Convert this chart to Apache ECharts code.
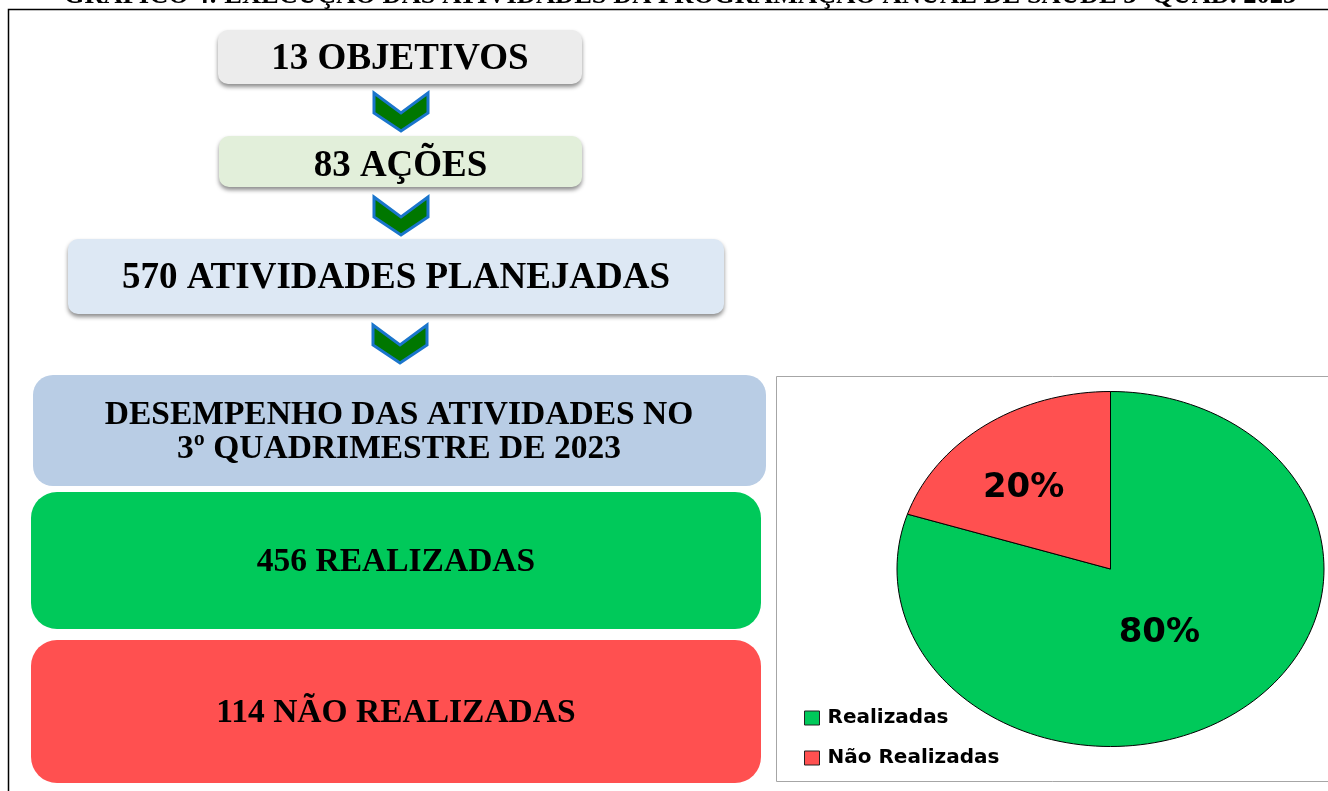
<!DOCTYPE html>
<html>
<head>
<meta charset="utf-8">
<title>Gráfico 4</title>
<script src="https://cdn.jsdelivr.net/npm/echarts@6/dist/echarts.min.js"></script>
<style>
  html, body { margin: 0; padding: 0; background: #fff; }
  #main { width: 1328px; height: 791px; }
</style>
</head>
<body>
<div id="main"></div>
<script>
// dados do gráfico
var chartTitle = 'GRÁFICO 4: EXECUÇÃO DAS ATIVIDADES DA PROGRAMAÇÃO ANUAL DE SAÚDE 3º QUAD. 2023';
var flowCounts = [13, 83, 570];
var flowNames = ['OBJETIVOS', 'AÇÕES', 'ATIVIDADES PLANEJADAS'];
var periodLines = ['DESEMPENHO DAS ATIVIDADES NO', '3º QUADRIMESTRE DE 2023'];
var resultCounts = [456, 114];
var resultNames = ['REALIZADAS', 'NÃO REALIZADAS'];
var sliceNames = ['Realizadas', 'Não Realizadas'];

var myChart = echarts.init(document.getElementById('main'));

var serifBold = 'bold 37px "Liberation Serif", "DejaVu Serif", serif';
var serifBold2 = 'bold 33.5px "Liberation Serif", "DejaVu Serif", serif';
var sansBold = '"DejaVu Sans", "Open Sans", sans-serif';

var green = '#00c95a';
var red = '#ff5050';

// caixas de cima (objetivos -> ações -> atividades)
var flowBoxes = [
    {x: 218, y: 30, w: 364, h: 54, fill: '#ececec', ty: 59},
    {x: 219, y: 136, w: 363, h: 51, fill: '#e2efda', ty: 166},
    {x: 68, y: 239, w: 656, h: 75, fill: '#dde8f4', ty: 278}
];
var chevrons = [{cx: 401, y: 93}, {cx: 401, y: 197}, {cx: 400, y: 325}];

var graphics = [];

// título cortado no topo
graphics.push({
    type: 'text', x: 680, y: -4,
    style: {text: chartTitle, font: 'bold 26.5px "Liberation Serif", serif', fill: '#000',
        align: 'center', verticalAlign: 'middle'}
});
// moldura
graphics.push({
    type: 'polyline',
    shape: {points: [[8.5, 791], [8.5, 9.5], [1328, 9.5]]},
    style: {stroke: '#000', lineWidth: 1.5, fill: null}
});
graphics.push({
    type: 'rect',
    shape: {x: 776.5, y: 376.5, width: 600, height: 405},
    style: {stroke: '#a6a6a6', lineWidth: 1, fill: '#fff'}
});

flowBoxes.forEach(function (b, i) {
    graphics.push({
        type: 'rect',
        shape: {x: b.x, y: b.y, width: b.w, height: b.h, r: 10},
        style: {fill: b.fill, shadowBlur: 4, shadowOffsetY: 3, shadowColor: 'rgba(0,0,0,0.45)'}
    });
    graphics.push({
        type: 'text', x: b.x + b.w / 2, y: b.ty,
        style: {text: flowCounts[i] + ' ' + flowNames[i], font: serifBold, fill: '#000',
            align: 'center', verticalAlign: 'middle'}
    });
});

chevrons.forEach(function (c) {
    var w = 27, y = c.y;
    graphics.push({
        type: 'polygon',
        shape: {points: [[c.cx - w, y], [c.cx, y + 20], [c.cx + w, y], [c.cx + w, y + 20],
            [c.cx, y + 38], [c.cx - w, y + 20]]},
        style: {fill: '#007700', stroke: '#1a75cc', lineWidth: 3, lineJoin: 'miter'}
    });
});

// caixa do desempenho
graphics.push({
    type: 'rect',
    shape: {x: 33, y: 375, width: 733, height: 111, r: 20},
    style: {fill: '#b9cde5'}
});
periodLines.forEach(function (t, i) {
    graphics.push({
        type: 'text', x: 399, y: 415 + i * 34,
        style: {text: t, font: serifBold2, fill: '#000', align: 'center', verticalAlign: 'middle'}
    });
});

var resultBoxes = [
    {y: 492, h: 137, fill: green, ty: 562},
    {y: 640, h: 143, fill: red, ty: 713}
];
resultBoxes.forEach(function (b, i) {
    graphics.push({
        type: 'rect',
        shape: {x: 31, y: b.y, width: 730, height: b.h, r: 26},
        style: {fill: b.fill}
    });
    graphics.push({
        type: 'text', x: 396, y: b.ty,
        style: {text: resultCounts[i] + ' ' + resultNames[i], font: serifBold2, fill: '#000',
            align: 'center', verticalAlign: 'middle'}
    });
});

// pizza elíptica desenhada com série custom sobre eixos -1..1
var total = resultCounts.reduce(function (a, b) { return a + b; }, 0);
var labelRadius = [0.42, 0.62];
var labelTurn = [-3, 5];   // graus
var sliceColors = [green, red];

function renderSlice(params, api) {
    var start = api.value(0), frac = api.value(1), idx = api.value(2);
    var a0 = Math.PI / 2 - start * 2 * Math.PI;
    var a1 = a0 - frac * 2 * Math.PI;
    var n = Math.max(2, Math.ceil(frac * 180));
    var pts = [api.coord([0, 0])];
    for (var k = 0; k <= n; k++) {
        var a = a0 + (a1 - a0) * k / n;
        pts.push(api.coord([Math.cos(a), Math.sin(a)]));
    }
    var am = (a0 + a1) / 2 + labelTurn[idx] * Math.PI / 180;
    var lp = api.coord([labelRadius[idx] * Math.cos(am), labelRadius[idx] * Math.sin(am)]);
    return {
        type: 'group',
        children: [{
            type: 'polygon',
            shape: {points: pts},
            style: {fill: api.visual('color'), stroke: '#000', lineWidth: 1}
        }, {
            type: 'text',
            x: lp[0], y: lp[1] + 2,
            style: {text: Math.round(frac * 100) + '%', font: 'bold 34px ' + sansBold, fill: '#000',
                align: 'center', verticalAlign: 'middle'}
        }]
    };
}

var cum = 0;
var pieSeries = resultCounts.map(function (v, i) {
    var s = {
        name: sliceNames[i],
        type: 'custom',
        renderItem: renderSlice,
        itemStyle: {color: sliceColors[i]},
        data: [[cum / total, v / total, i]],
        silent: true,
        z: 3
    };
    cum += v;
    return s;
});

var option = {
    animation: false,
    graphic: {elements: graphics},
    grid: {left: 897, top: 391.5, width: 427, height: 355},
    xAxis: {type: 'value', min: -1, max: 1, show: false},
    yAxis: {type: 'value', min: -1, max: 1, show: false},
    legend: {
        orient: 'vertical',
        left: 804, top: 708,
        padding: 0,
        itemWidth: 15, itemHeight: 14, itemGap: 20,
        icon: 'rect',
        data: sliceNames,
        itemStyle: {borderColor: '#222', borderWidth: 1},
        textStyle: {fontFamily: sansBold, fontWeight: 'bold', fontSize: 20, color: '#000', padding: [0, 0, 0, 3]},
        selectedMode: false
    },
    series: pieSeries
};

myChart.setOption(option);
</script>
</body>
</html>
